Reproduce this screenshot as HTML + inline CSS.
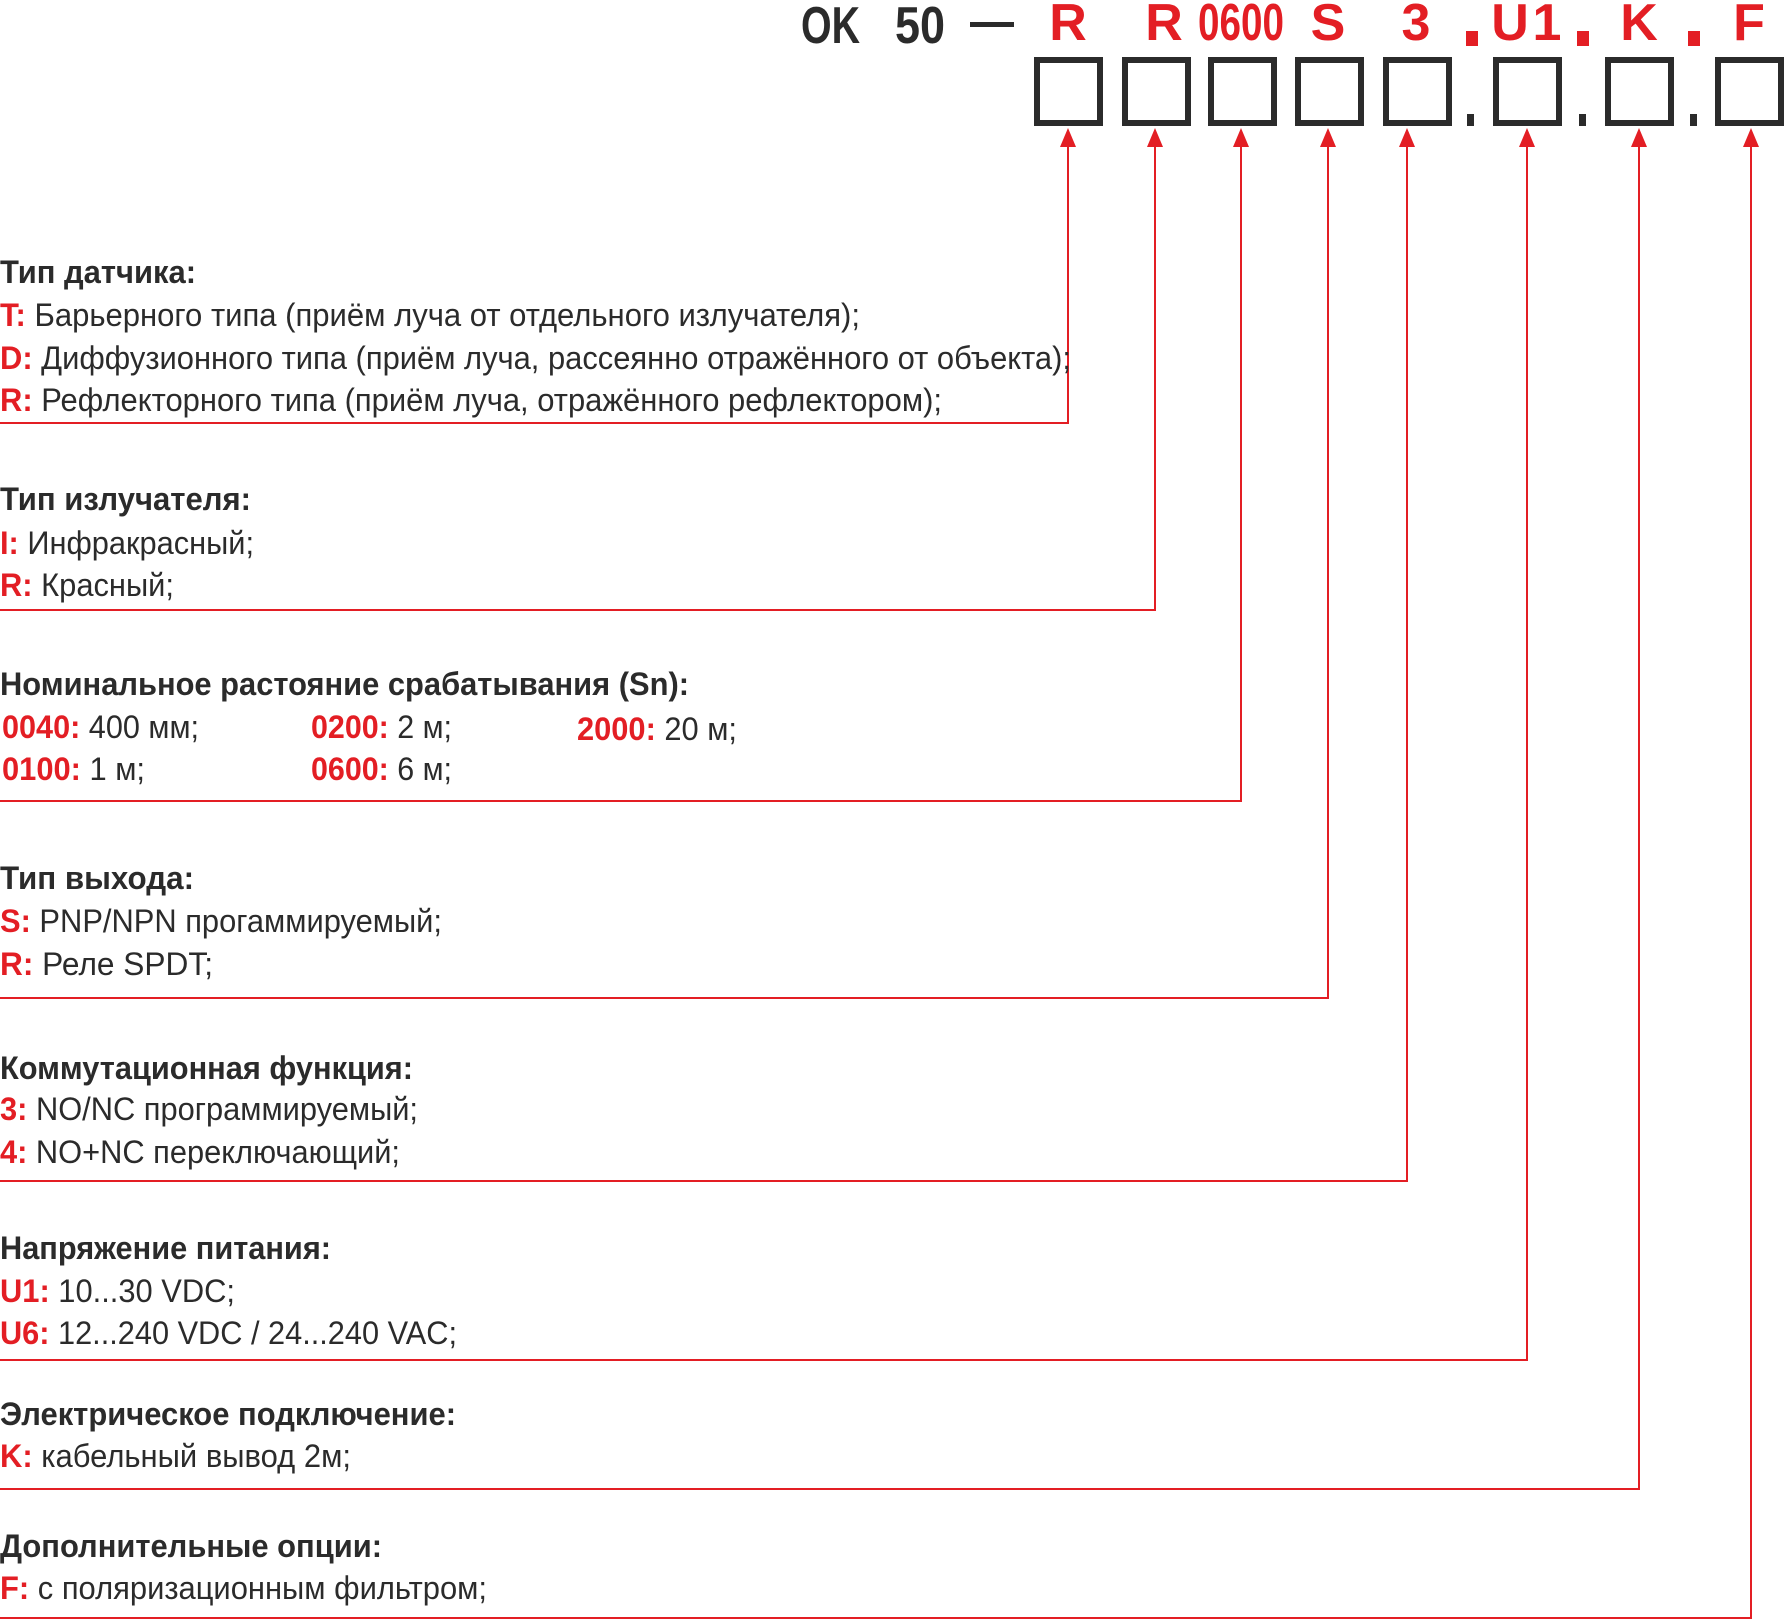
<!DOCTYPE html>
<html><head><meta charset="utf-8"><style>
html,body{margin:0;padding:0;background:#fff}
svg{display:block}
text{font-family:"Liberation Sans",sans-serif;font-size:32px;fill:#2b2b2b}
.b{font-weight:bold}
.r{fill:#e31e24;font-weight:bold}
.t{font-size:52px;font-weight:bold}
</style></head><body>
<svg width="1786" height="1621" viewBox="0 0 1786 1621" xmlns="http://www.w3.org/2000/svg">
<!-- top code -->
<text x="801" y="43" class="t" textLength="59" lengthAdjust="spacingAndGlyphs">OK</text>
<text x="895" y="43" class="t" textLength="50" lengthAdjust="spacingAndGlyphs">50</text>
<rect x="970" y="22" width="44" height="5" fill="#2b2b2b"/>
<g class="t" text-anchor="middle">
<text x="1068" y="40" class="t r">R</text>
<text x="1164" y="40" class="t r">R</text>
<text x="1241" y="40" class="t r" textLength="86" lengthAdjust="spacingAndGlyphs">0600</text>
<text x="1328" y="40" class="t r">S</text>
<text x="1416" y="40" class="t r">3</text>
<text x="1510" y="40" class="t r">U</text>
<text x="1547" y="40" class="t r">1</text>
<text x="1639" y="40" class="t r">K</text>
<text x="1749" y="40" class="t r">F</text>
</g>
<g fill="#e31e24">
<rect x="1466" y="31" width="12" height="15"/>
<rect x="1577" y="31" width="12" height="15"/>
<rect x="1688" y="31" width="12" height="15"/>
</g>
<g fill="none" stroke="#2b2b2b" stroke-width="6">
<rect x="1037" y="60" width="63" height="63"/>
<rect x="1125" y="60" width="63" height="63"/>
<rect x="1211" y="60" width="63" height="63"/>
<rect x="1298" y="60" width="63" height="63"/>
<rect x="1386" y="60" width="63" height="63"/>
<rect x="1496" y="60" width="63" height="63"/>
<rect x="1608" y="60" width="63" height="63"/>
<rect x="1718" y="60" width="63" height="63"/>
</g>
<g fill="#2b2b2b">
<rect x="1467" y="114" width="7" height="12"/>
<rect x="1579" y="114" width="7" height="12"/>
<rect x="1690" y="114" width="7" height="12"/>
</g>
<!-- connector lines -->
<g fill="none" stroke="#e31e24" stroke-width="2">
<polyline points="1068,140 1068,423 0,423"/>
<polyline points="1155,140 1155,610 0,610"/>
<polyline points="1241,140 1241,801 0,801"/>
<polyline points="1328,140 1328,998 0,998"/>
<polyline points="1407,140 1407,1181 0,1181"/>
<polyline points="1527,140 1527,1360 0,1360"/>
<polyline points="1639,140 1639,1489 0,1489"/>
<polyline points="1751,140 1751,1618 0,1618"/>
</g>
<g fill="#e31e24">
<polygon points="1068,128 1060,147 1076,147"/>
<polygon points="1155,128 1147,147 1163,147"/>
<polygon points="1241,128 1233,147 1249,147"/>
<polygon points="1328,128 1320,147 1336,147"/>
<polygon points="1407,128 1399,147 1415,147"/>
<polygon points="1527,128 1519,147 1535,147"/>
<polygon points="1639,128 1631,147 1647,147"/>
<polygon points="1751,128 1743,147 1759,147"/>
</g>
<!-- section 1 -->
<text x="0" y="283" class="b" textLength="196" lengthAdjust="spacingAndGlyphs">Тип датчика:</text>
<text x="0" y="326" textLength="860" lengthAdjust="spacingAndGlyphs"><tspan class="r">T:</tspan> Барьерного типа (приём луча от отдельного излучателя);</text>
<text x="0" y="369" textLength="1071" lengthAdjust="spacingAndGlyphs"><tspan class="r">D:</tspan> Диффузионного типа (приём луча, рассеянно отражённого от объекта);</text>
<text x="0" y="411" textLength="942" lengthAdjust="spacingAndGlyphs"><tspan class="r">R:</tspan> Рефлекторного типа (приём луча, отражённого рефлектором);</text>
<!-- section 2 -->
<text x="0" y="510" class="b" textLength="251" lengthAdjust="spacingAndGlyphs">Тип излучателя:</text>
<text x="0" y="554" textLength="254" lengthAdjust="spacingAndGlyphs"><tspan class="r">I:</tspan> Инфракрасный;</text>
<text x="0" y="596" textLength="174" lengthAdjust="spacingAndGlyphs"><tspan class="r">R:</tspan> Красный;</text>
<!-- section 3 -->
<text x="0" y="695" class="b" textLength="689" lengthAdjust="spacingAndGlyphs">Номинальное растояние срабатывания (Sn):</text>
<text x="2" y="738" textLength="197" lengthAdjust="spacingAndGlyphs"><tspan class="r">0040:</tspan> 400 мм;</text>
<text x="311" y="738" textLength="141" lengthAdjust="spacingAndGlyphs"><tspan class="r">0200:</tspan> 2 м;</text>
<text x="577" y="740" textLength="160" lengthAdjust="spacingAndGlyphs"><tspan class="r">2000:</tspan> 20 м;</text>
<text x="2" y="780" textLength="143" lengthAdjust="spacingAndGlyphs"><tspan class="r">0100:</tspan> 1 м;</text>
<text x="311" y="780" textLength="141" lengthAdjust="spacingAndGlyphs"><tspan class="r">0600:</tspan> 6 м;</text>
<!-- section 4 -->
<text x="0" y="889" class="b" textLength="194" lengthAdjust="spacingAndGlyphs">Тип выхода:</text>
<text x="0" y="932" textLength="442" lengthAdjust="spacingAndGlyphs"><tspan class="r">S:</tspan> PNP/NPN прогаммируемый;</text>
<text x="0" y="975" textLength="213" lengthAdjust="spacingAndGlyphs"><tspan class="r">R:</tspan> Реле SPDT;</text>
<!-- section 5 -->
<text x="0" y="1079" class="b" textLength="413" lengthAdjust="spacingAndGlyphs">Коммутационная функция:</text>
<text x="0" y="1120" textLength="418" lengthAdjust="spacingAndGlyphs"><tspan class="r">3:</tspan> NO/NC программируемый;</text>
<text x="0" y="1163" textLength="400" lengthAdjust="spacingAndGlyphs"><tspan class="r">4:</tspan> NO+NC переключающий;</text>
<!-- section 6 -->
<text x="0" y="1259" class="b" textLength="331" lengthAdjust="spacingAndGlyphs">Напряжение питания:</text>
<text x="0" y="1302" textLength="235" lengthAdjust="spacingAndGlyphs"><tspan class="r">U1:</tspan> 10...30 VDC;</text>
<text x="0" y="1344" textLength="457" lengthAdjust="spacingAndGlyphs"><tspan class="r">U6:</tspan> 12...240 VDC / 24...240 VAC;</text>
<!-- section 7 -->
<text x="0" y="1425" class="b" textLength="456" lengthAdjust="spacingAndGlyphs">Электрическое подключение:</text>
<text x="0" y="1467" textLength="351" lengthAdjust="spacingAndGlyphs"><tspan class="r">K:</tspan> кабельный вывод 2м;</text>
<!-- section 8 -->
<text x="0" y="1557" class="b" textLength="382" lengthAdjust="spacingAndGlyphs">Дополнительные опции:</text>
<text x="0" y="1599" textLength="487" lengthAdjust="spacingAndGlyphs"><tspan class="r">F:</tspan> с поляризационным фильтром;</text>
</svg>
</body></html>
